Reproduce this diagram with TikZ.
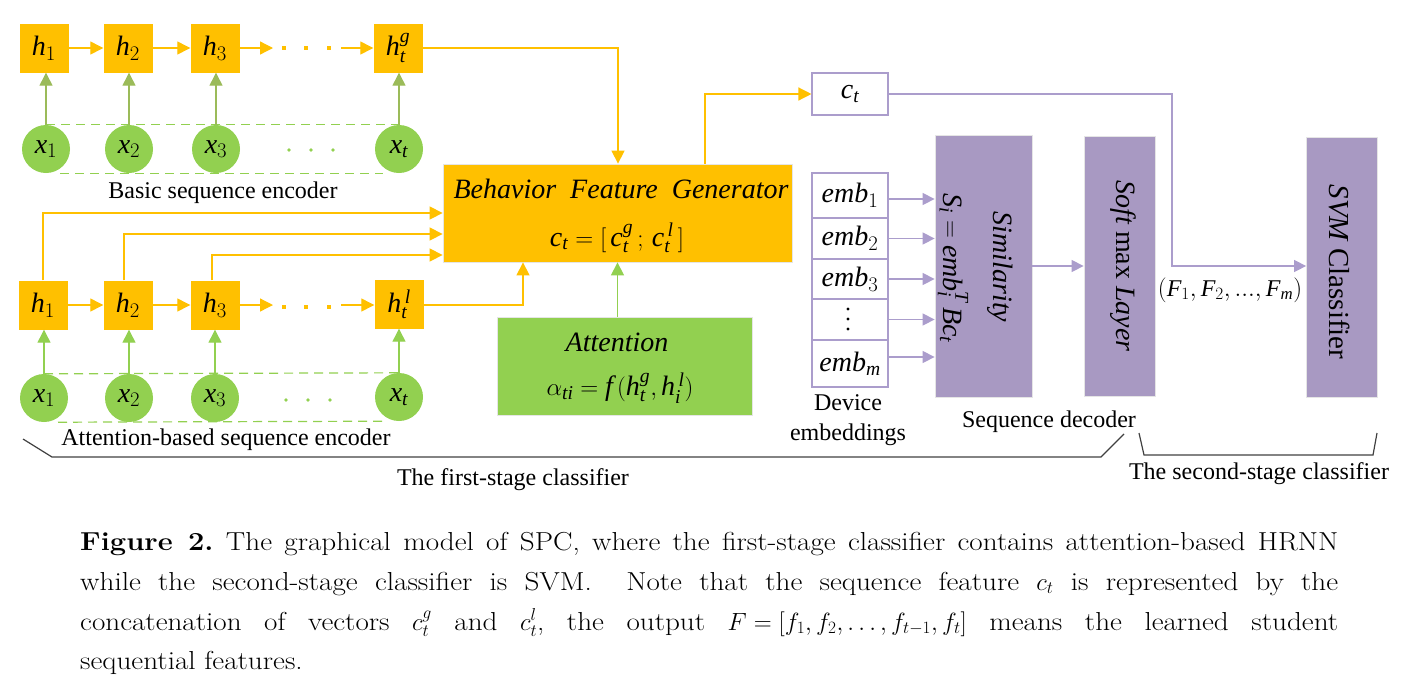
\documentclass[tikz,border=0pt]{standalone}
\usepackage{amsmath}
\usepackage{fontspec}
\setmainfont{Liberation Serif}
\newfontfamily\capfont{Latin Modern Roman}[FakeStretch=1.12]
\usetikzlibrary{arrows.meta,backgrounds}
\definecolor{orng}{HTML}{FFC000}
\definecolor{grn}{HTML}{92D050}
\definecolor{olv}{HTML}{9BBB59}
\definecolor{purpf}{HTML}{A899C2}
\definecolor{purp}{HTML}{AB9DCC}
\definecolor{brkc}{HTML}{404040}
\newcommand\vi[1]{\mathit{#1}}
\begin{document}
\begin{tikzpicture}[x=1pt,y=-1pt,
  lbl/.style={font=\fontsize{24}{28}\selectfont, inner sep=0pt},
  mth/.style={font=\fontsize{28}{32}\selectfont, inner sep=0pt},
  hb/.style={fill=orng, minimum size=49pt, inner sep=0pt, font=\fontsize{28}{32}\selectfont},
  xc/.style={circle, fill=grn, minimum size=48pt, inner sep=0pt, font=\fontsize{28}{32}\selectfont},
  oarr/.style={draw=orng, line width=1.3pt, -{Triangle[length=13pt,width=13pt]}},
  garr/.style={draw=olv, line width=1.3pt, -{Triangle[length=13pt,width=13pt]}},
  garrb/.style={draw=grn, line width=1.3pt, -{Triangle[length=13pt,width=13pt]}},
  parr/.style={draw=purp, line width=1.3pt, -{Triangle[length=12pt,width=12pt]}},
  gdash/.style={draw=grn, line width=1.2pt, dash pattern=on 9pt off 6pt},
  brk/.style={draw=brkc, line width=1.2pt},
  pbox/.style={fill=purpf, draw=black!10, line width=0.8pt, inner sep=0pt},
  ebox/.style={draw=purp, line width=1.1pt, fill=white, minimum width=76pt, inner sep=0pt, font=\fontsize{28}{32}\selectfont},
  odot/.style={fill=orng},
  gdot/.style={fill=grn},
  capline/.style={anchor=base west, inner sep=0pt, font=\capfont\fontsize{26}{39}\selectfont\frenchspacing},
]
\useasboundingbox (0,0) rectangle (1410,681);

% ---------- top (basic) encoder ----------
\node[hb] (a1) at (44,48) {$\vi{h}_1$};
\node[hb] (a2) at (128,48) {$\vi{h}_2$};
\node[hb] (a3) at (215,48) {$\vi{h}_3$};
\node[hb] (a4) at (398,48) {$\vi{h}_{\vi{t}}^{\vi{g}}$};
\coordinate (a3e) at (273,48);
\coordinate (a4s) at (341,48);
\draw[oarr] (a1) -- (a2);
\draw[oarr] (a2) -- (a3);
\draw[oarr] (a3) -- (a3e);
\draw[oarr] (a4s) -- (a4);
\foreach \xx in {284,306,329} \fill[odot] (\xx-1.6,46.4) rectangle (\xx+1.6,49.6);

\node[xc] (x1) at (46,149) {$\vi{x}_1$};
\node[xc] (x2) at (129,149) {$\vi{x}_2$};
\node[xc] (x3) at (216,149) {$\vi{x}_3$};
\node[xc] (x4) at (399,149) {$\vi{x}_{\vi{t}}$};
\foreach \xx in {289,311,333} \fill[gdot] (\xx,150) circle (1.8);
\begin{pgfonlayer}{background}
\draw[gdash] (x1.north) -- (x4.north);
\draw[gdash] ([xshift=14pt]x1.south) -- ([xshift=-16pt]x4.south);
\end{pgfonlayer}
\draw[garr] (x1.north) -- (x1.north |- a1.south);
\draw[garr] (x2.north) -- (x2.north |- a2.south);
\draw[garr] (x3.north) -- (x3.north |- a3.south);
\draw[garr] (x4.north) -- (x4.north |- a4.south);
\node[lbl] (basic) at (223,193) {Basic sequence encoder};

% ---------- bottom (attention) encoder ----------
\node[hb] (b1) at (43,305) {$\vi{h}_1$};
\node[hb] (b2) at (128,305) {$\vi{h}_2$};
\node[hb] (b3) at (215,305) {$\vi{h}_3$};
\node[hb] (b4) at (399,304) {$\vi{h}_{\vi{t}}^{\,\vi{l}}$};
\coordinate (b3e) at (273,305);
\coordinate (b4s) at (341,305);
\draw[oarr] (b1) -- (b2);
\draw[oarr] (b2) -- (b3);
\draw[oarr] (b3) -- (b3e);
\draw[oarr] (b4s) -- (b4.west |- b4s);
\foreach \xx in {284,306,329} \fill[odot] (\xx-1.6,305.4) rectangle (\xx+1.6,308.6);

\node[xc] (y1) at (44,398) {$\vi{x}_1$};
\node[xc] (y2) at (129,398) {$\vi{x}_2$};
\node[xc] (y3) at (215,398) {$\vi{x}_3$};
\node[xc] (y4) at (399,397) {$\vi{x}_{\vi{t}}$};
\foreach \xx in {286,308,330} \fill[gdot] (\xx,400) circle (1.8);
\begin{pgfonlayer}{background}
\draw[gdash] (y1.north) -- (y4.north);
\draw[gdash] ([xshift=14pt]y1.south) -- ([xshift=-16pt]y4.south);
\end{pgfonlayer}
\draw[garrb] (y1.north) -- (y1.north |- b1.south);
\draw[garrb] (y2.north) -- (y2.north |- b2.south);
\draw[garrb] (y3.north) -- (y3.north |- b3.south);
\draw[garrb] (y4.north) -- (y4.north |- b4.south);
\node[lbl] (attenc) at (226,440) {Attention-based sequence encoder};

% ---------- behavior feature generator & attention ----------
\node[fill=orng, draw=black!10, line width=0.8pt, minimum width=349pt, minimum height=98pt, inner sep=0pt] (bfg) at (617.5,213) {};
\node[mth] (bfgt) at (621,189) {\itshape Behavior\ \ Feature\ \ Generator};
\node[mth] (bfgm) at (617,238) {$\vi{c}_{\vi{t}}=[\,\vi{c}_{\vi{t}}^{\vi{g}}\,;\,\vi{c}_{\vi{t}}^{\,\vi{l}}\,]$};

\node[fill=grn, draw=black!10, line width=0.8pt, minimum width=255pt, minimum height=98pt, inner sep=0pt] (att) at (624.5,366) {};
\node[mth] (attt) at (617,342) {\itshape Attention};
\node[mth] (attm) at (620,388) {$\alpha_{\vi{ti}}=\vi{f}\,(\vi{h}_{\vi{t}}^{\vi{g}},\vi{h}_{\vi{i}}^{\,\vi{l}})$};

\draw[oarr] (b1.north) |- (bfg.west);
\draw[oarr] ([xshift=-4pt]b2.north) |- ([yshift=-21pt]bfg.west);
\draw[oarr] ([xshift=-3pt]b3.north) |- ([yshift=-42pt]bfg.west);
\draw[oarr] (b4.east |- b4s) -| ([xshift=-94.5pt]bfg.south);
\draw[oarr] (a4.east) -| ([xshift=0.5pt]bfg.north);
\draw[garrb] (bfg.south |- att.north) -- (bfg.south);

% ---------- c_t ----------
\node[draw=purp, line width=1.1pt, minimum width=76pt, minimum height=42pt, inner sep=0pt, font=\fontsize{28}{32}\selectfont] (ct) at (850,94) {$\vi{c}_{\vi{t}}$};
\draw[oarr] ([xshift=87.5pt]bfg.north) |- (ct.west);

% ---------- device embeddings ----------
\node[ebox, minimum height=45pt] (e1) at (850,195.5) {$\vi{emb}_1$};
\node[ebox, minimum height=41pt] (e2) at (850,238.5) {$\vi{emb}_2$};
\node[ebox, minimum height=40pt] (e3) at (850,279) {$\vi{emb}_3$};
\node[ebox, minimum height=41pt] (e4) at (850,319.5) {};
\foreach \yy in {309,319,329} \fill[black] (848,\yy) circle (1.7);
\node[ebox, minimum height=47pt] (e5) at (850,363.5) {$\vi{emb}_{\vi{m}}$};
\node[lbl, align=center, font=\fontsize{24}{30}\selectfont] (dev) at (848,420) {Device\\embeddings};

% ---------- decoder ----------
\node[pbox, minimum width=97pt, minimum height=262pt] (sim) at (983.5,266) {};
\node[mth, rotate=-90] (simt) at (1000,267) {\itshape Similarity};
\node[mth, rotate=-90] (simm) at (953,268) {$\vi{S}_{\vi{i}}=\vi{emb}_{\vi{i}}^{\vi{T}}\,\vi{Bc}_{\vi{t}}$};
\node[pbox, minimum width=71pt, minimum height=260pt] (smax) at (1119.5,266) {};
\node[mth, rotate=-90] (smaxt) at (1123,266) {{\itshape Soft} max {\itshape Layer}};
\node[pbox, minimum width=71pt, minimum height=260pt] (svm) at (1342,267) {};
\node[mth, rotate=-90, font=\fontsize{29}{32}\selectfont] (svmt) at (1339,272) {{\itshape SVM} Classifier};

\draw[parr] ([yshift=-3.5pt]e1.east) -- ([yshift=-3.5pt]e1.east -| sim.west);
\draw[parr] (e2.east) -- (e2.east -| sim.west);
\draw[parr] (e3.east) -- (e3.east -| sim.west);
\draw[parr] (e4.east) -- (e4.east -| sim.west);
\draw[parr] ([yshift=6.5pt]e5.east) -- ([yshift=6.5pt]e5.east -| sim.west);
\draw[parr] (sim.east) -- (smax.west |- sim.east);
\coordinate (bend) at (1172,266);
\draw[parr] (ct.east) -| (bend) -- (svm.west |- bend);
\node[font=\fontsize{24}{28}\selectfont, inner sep=0pt] (flab) at (1230,290) {$(\vi{F}_1{,}\,\vi{F}_2{,}\,...{,}\,\vi{F}_{\vi{m}})$};

\node[lbl] (seqdec) at (1049,422) {Sequence decoder};

% ---------- stage brackets ----------
\draw[brk] (23,439) -- (52,457) -- (1101,457) -- (1124,434);
\draw[brk] (1139,433) -- (1144,455) -- (1373,455) -- (1377,433);
\node[lbl] (first) at (513,480) {The first-stage classifier};
\node[lbl] (second) at (1259,474) {The second-stage classifier};

% ---------- caption ----------
\node[capline] (cap1) at (80,550) {\makebox[1258pt][s]{{\bfseries Figure 2.} The graphical model of SPC, where the first-stage classifier contains attention-based HRNN}};
\node[capline] (cap2) at (80,590) {\makebox[1258pt][s]{while the second-stage classifier is SVM.\ \ Note that the sequence feature \mbox{$c_t$} is represented by the}};
\node[capline] (cap3) at (80,630) {\makebox[1258pt][s]{concatenation of vectors \mbox{$c_t^g$} and \mbox{$c_t^l$,} the output \mbox{$F=[f_1,f_2,\ldots,f_{t-1},f_t]$} means the learned student}};
\node[capline] (cap4) at (80,669) {sequential features.};
\end{tikzpicture}
\end{document}
